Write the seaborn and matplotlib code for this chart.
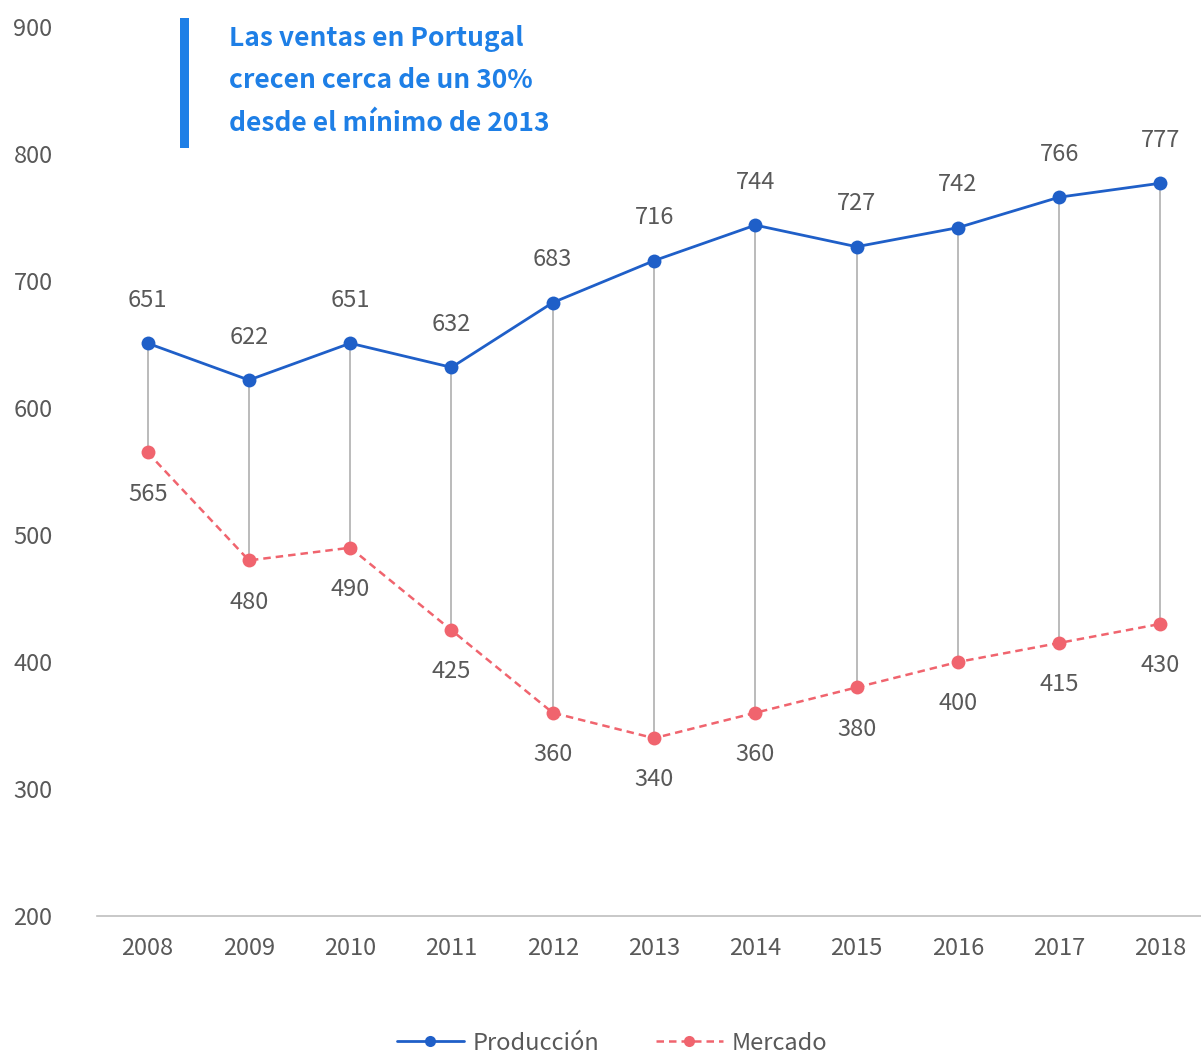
import matplotlib
matplotlib.use("Agg")
import matplotlib.pyplot as plt
import seaborn as sns
import pandas as pd

years = ["2008", "2009", "2010", "2011", "2012", "2013", "2014", "2015", "2016", "2017", "2018"]
produccion = [651, 622, 651, 632, 683, 716, 744, 727, 742, 766, 777]
mercado = [565, 480, 490, 425, 360, 340, 360, 380, 400, 415, 430]
y_ticks = [200, 300, 400, 500, 600, 700, 800, 900]

sns.set_style("white")
plt.rcParams['font.family'] = ['Noto Sans CJK JP', 'DejaVu Sans']

blue = "#1F5FC8"
red = "#F0646E"
gray_txt = "#595959"

df = pd.DataFrame({"year": years, "Producción": produccion, "Mercado": mercado})
df["x"] = range(len(years))

fig = plt.figure(figsize=(12.01, 10.55), dpi=100)
ax = fig.add_axes([97 / 1201, 1 - 916 / 1055, 1 - 97 / 1201, (916 - 27) / 1055])

# connectors between the two series
ax.vlines(df["x"], df["Mercado"], df["Producción"], color="#AFAFAF", lw=1.2, zorder=1)

sns.lineplot(data=df, x="x", y="Producción", ax=ax, color=blue, lw=2,
             marker="o", markersize=10, markeredgewidth=0, label="Producción", zorder=3)
sns.lineplot(data=df, x="x", y="Mercado", ax=ax, color=red, lw=1.8, linestyle=(0, (3, 2)),
             marker="o", markersize=10, markeredgewidth=0, label="Mercado", zorder=3)

for x, p, m in zip(df["x"], produccion, mercado):
    ax.annotate(str(p), (x, p), xytext=(0, 31), textcoords="offset points",
                ha="center", va="center", fontsize=17, color=gray_txt)
    ax.annotate(str(m), (x, m), xytext=(0, -30), textcoords="offset points",
                ha="center", va="center", fontsize=17, color=gray_txt)

ax.set_xlim(-0.5, 10.4)
ax.set_ylim(200, 900)
ax.set_yticks(y_ticks)
ax.set_xticks(df["x"])
ax.set_xticklabels(years)
ax.set_xlabel("")
ax.set_ylabel("")
ax.tick_params(axis="both", length=0, labelsize=17, colors=gray_txt)
ax.tick_params(axis="x", pad=15)
ax.tick_params(axis="y", pad=32)
for s in ["top", "right", "left"]:
    ax.spines[s].set_visible(False)
ax.spines["bottom"].set_color("#BFBFBF")
ax.spines["bottom"].set_linewidth(1.2)

# annotation box
fig.patches.append(plt.Rectangle((180 / 1201, 1 - 148 / 1055), 9 / 1201, 130 / 1055,
                                 transform=fig.transFigure, color="#1E7FE6", lw=0))
fig.text(229 / 1201, 1 - 81 / 1055, "Las ventas en Portugal\ncrecen cerca de un 30%\ndesde el mínimo de 2013",
         ha="left", va="center", fontsize=19, fontweight="bold", color="#1E7FE6",
         linespacing=1.74)

leg = ax.legend(loc="center", bbox_to_anchor=(0.51, 1 - 1043 / 1055), bbox_transform=fig.transFigure,
                ncol=2, frameon=False, fontsize=17, handlelength=2.8, numpoints=1,
                columnspacing=2.4, handletextpad=0.4, labelcolor=gray_txt)
for h in leg.legend_handles:
    h.set_markersize(8)

fig.savefig("out.png", dpi=100)
